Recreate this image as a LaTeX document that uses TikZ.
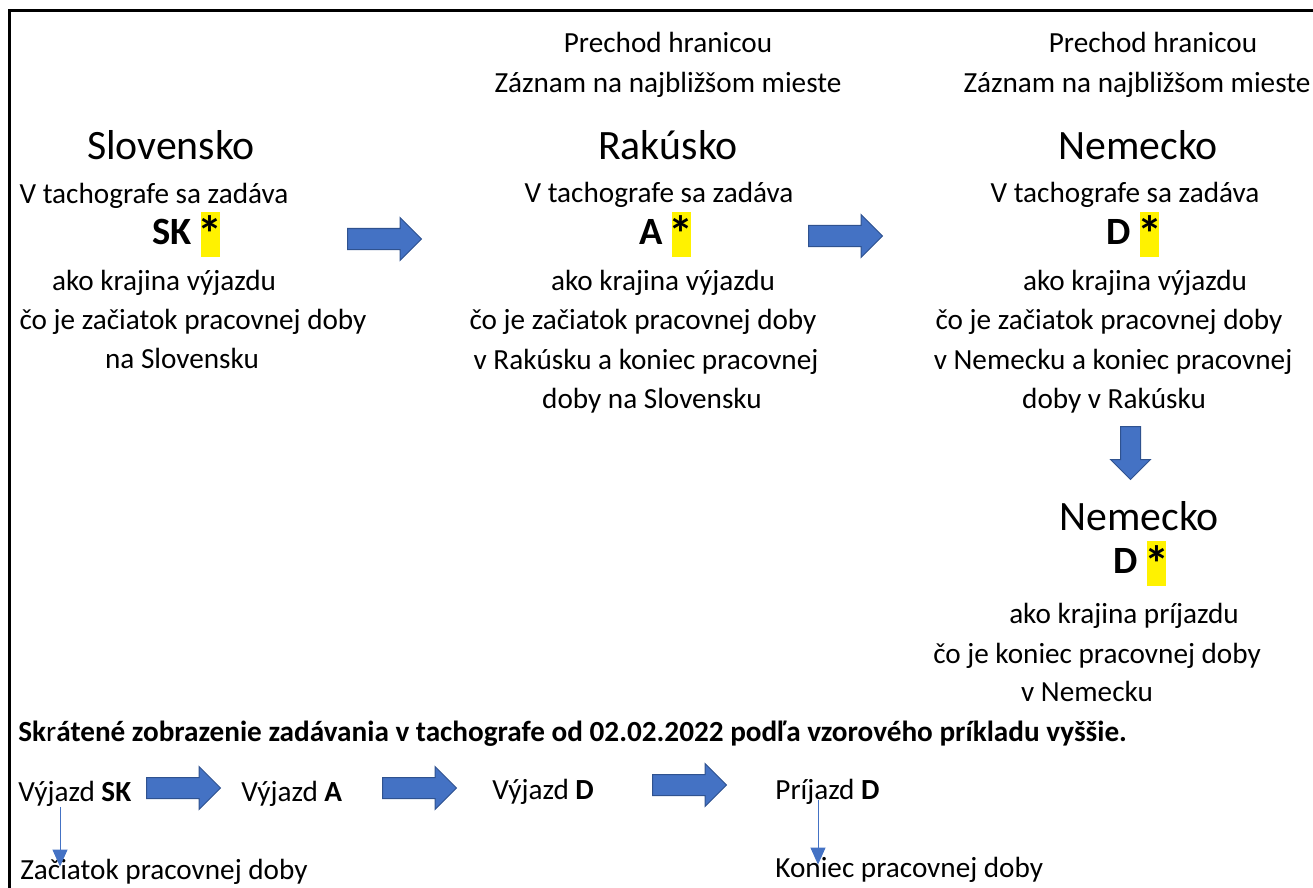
\documentclass[tikz,border=0pt]{standalone}
\usepackage{fontspec}
\setmainfont{Carlito}
\usetikzlibrary{shapes.arrows,arrows.meta}
\definecolor{arrowblue}{RGB}{68,114,196}
\definecolor{arrowedge}{RGB}{47,82,143}
\newcommand{\hlstar}{{\setlength{\fboxsep}{0pt}\colorbox{yellow}{\rule[-6.5pt]{0pt}{22.5pt}\makebox[9.5pt]{\raisebox{-4pt}{\scalebox{1.3}{*}}}}}}
\tikzset{
  txt/.style={font=\fontsize{14.6}{17}\selectfont, inner sep=0pt, text height=0.6em, text depth=0pt, yshift=-2.5pt},
  big/.style={font=\fontsize{20.9}{25}\selectfont, inner sep=0pt, text height=0.6em, text depth=0pt, yshift=-4.5pt},
  key/.style={font=\fontsize{19.3}{23}\selectfont\bfseries, inner sep=0pt, text height=0.6em, text depth=0pt, yshift=-2.5pt},
  blockarrow/.style={single arrow, fill=arrowblue, draw=arrowedge, line width=0.5pt,
    inner xsep=0pt, inner ysep=5pt, minimum width=21pt, minimum height=37pt,
    single arrow head extend=5.5pt, anchor=tail},
  thinarrow/.style={draw=arrowblue, line width=0.5pt, -{Triangle[width=7.5pt,length=8.5pt]}}
}

\begin{document}
\begin{tikzpicture}[x=0.5pt,y=-0.5pt]
   \useasboundingbox (0,0) rectangle (1313,888);
   \draw[line width=1.5pt] (9.5,888) -- (9.5,11) -- (1313,11);
   % Slovensko
   \node[big] (sl) at (171,145) {Slovensko};
   \node[txt] (sl1) at (154,193) {V tachografe sa zadáva};
   \node[key] (sl2) at (186,233) {SK \hlstar};
   \node[txt] (sl3) at (164,280) {ako krajina výjazdu};
   \node[txt] (sl4) at (193,318) {čo je začiatok pracovnej doby};
   \node[txt] (sl5) at (182,357) {na Slovensku};
   % Rakusko
   \node[txt] (ra0) at (668,42) {Prechod hranicou};
   \node[txt] (ra00) at (668,82) {Záznam na najbližšom mieste};
   \node[big] (ra) at (668,145) {Rakúsko};
   \node[txt] (ra1) at (659,192) {V tachografe sa zadáva};
   \node[key] (ra2) at (665,233) {A \hlstar};
   \node[txt] (ra3) at (663,280) {ako krajina výjazdu};
   \node[txt] (ra4) at (643,318) {čo je začiatok pracovnej doby};
   \node[txt] (ra5) at (646,358) {v Rakúsku a koniec pracovnej};
   \node[txt] (ra6) at (652,397) {doby na Slovensku};
   % Nemecko
   \node[txt] (ne0) at (1153,42) {Prechod hranicou};
   \node[txt] (ne00) at (1137,82) {Záznam na najbližšom mieste};
   \node[big] (ne) at (1138,145) {Nemecko};
   \node[txt] (ne1) at (1125,192) {V tachografe sa zadáva};
   \node[key] (ne2) at (1133,233) {D \hlstar};
   \node[txt] (ne3) at (1135,280) {ako krajina výjazdu};
   \node[txt] (ne4) at (1109,318) {čo je začiatok pracovnej doby};
   \node[txt] (ne5) at (1113,358) {v Nemecku a koniec pracovnej};
   \node[txt] (ne6) at (1114,397) {doby v Rakúsku};
   % Nemecko, prijazd
   \node[big] (nd) at (1139,515) {Nemecko};
   \node[key] (nd1) at (1140,562) {D \hlstar};
   \node[txt] (nd2) at (1124,612) {ako krajina príjazdu};
   \node[txt] (nd3) at (1097,652) {čo je koniec pracovnej doby};
   \node[txt] (nd4) at (1087,690) {v Nemecku};
   % block arrows
   \node[blockarrow] (a1) at (347,239) {};
   \node[blockarrow] (a2) at (808,236) {};
   \node[blockarrow, shape border rotate=270, inner xsep=4.75pt, inner ysep=4.75pt,
     minimum width=19.5pt, minimum height=26.5pt, single arrow head extend=5pt] (a3) at (1130.5,426) {};
   % skratene zobrazenie
   \node[txt, anchor=west] (short) at (18,730)
     {\textbf{Sk}r\textbf{átené zobrazenie zadávania v tachografe od 02.02.2022 podľa vzorového príkladu vyššie.}};
   \node[txt, anchor=west] (vsk) at (18,790) {Výjazd \textbf{SK}};
   \node[txt, anchor=west] (va) at (241,790) {Výjazd \textbf{A}};
   \node[txt, anchor=west] (vd) at (492,788) {Výjazd \textbf{D}};
   \node[txt, anchor=west] (pd) at (775,788) {Príjazd \textbf{D}};
   \node[txt, anchor=west] (zac) at (20,868) {Začiatok pracovnej doby};
   \node[txt, anchor=west] (kon) at (775,866) {Koniec pracovnej doby};
   \node[blockarrow] (b1) at (146,788) {};
   \node[blockarrow] (b2) at (382,788) {};
   \node[blockarrow] (b3) at (652,785) {};
   \coordinate (t1) at (60,807);
   \coordinate (t2) at (818,800);
   \draw[thinarrow] (t1) -- (t1 |- zac.north);
   \draw[thinarrow] (t2) -- (t2 |- kon.north);
  \end{tikzpicture}
\end{document}
